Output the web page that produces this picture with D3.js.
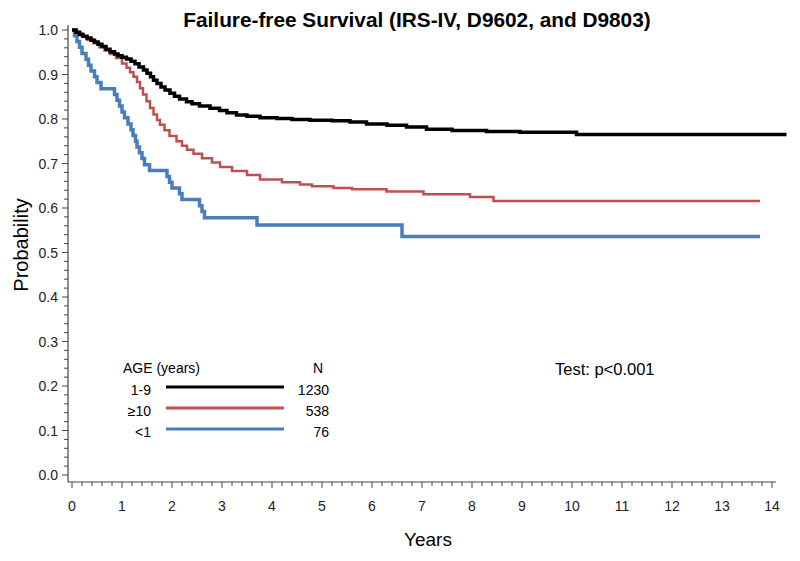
<!DOCTYPE html>
<html><head><meta charset="utf-8">
<script src="https://cdn.jsdelivr.net/npm/d3@7"></script>
<style>body{margin:0;background:#fff}svg{font-family:"Liberation Sans",Arial,sans-serif}</style>
</head><body><svg id="c" width="800" height="561"></svg>
<script>
const title = "Failure-free Survival (IRS-IV, D9602, and D9803)";
const xTicks = [0,1,2,3,4,5,6,7,8,9,10,11,12,13,14];
const yTicks = [0,0.1,0.2,0.3,0.4,0.5,0.6,0.7,0.8,0.9,1.0];
const groups = ["1-9","≥10","<1"];
const groupN = [1230,538,76];
const colors = ["#000000","#c0504d","#4a7ebb"];

const blackT = [0,0.08,0.15,0.22,0.3,0.38,0.45,0.52,0.6,0.68,0.76,0.85,0.92,1.0,1.09,1.18,1.26,1.34,1.43,1.5,1.57,1.63,1.7,1.78,1.86,1.96,2.05,2.15,2.29,2.4,2.55,2.76,2.95,3.1,3.29,3.5,3.76,4.1,4.4,4.76,5.2,5.56,5.89,6.3,6.69,7.09,7.6,8.29,8.96,10.09,14.29];
const blackS = [1,0.995,0.99,0.986,0.982,0.977,0.973,0.968,0.963,0.957,0.951,0.946,0.942,0.939,0.935,0.93,0.924,0.917,0.91,0.903,0.895,0.887,0.88,0.872,0.865,0.858,0.851,0.845,0.839,0.834,0.829,0.824,0.819,0.814,0.809,0.806,0.803,0.801,0.799,0.797,0.796,0.793,0.789,0.786,0.782,0.777,0.774,0.772,0.77,0.765,0.765];
const redT = [0,0.1,0.2,0.3,0.43,0.55,0.65,0.76,0.88,1.0,1.09,1.16,1.23,1.3,1.36,1.42,1.49,1.56,1.63,1.7,1.76,1.85,1.95,2.09,2.2,2.3,2.43,2.6,2.8,2.96,3.2,3.5,3.76,4.2,4.56,4.8,5.23,5.6,6.29,7.03,7.96,8.43,13.76];
const redS = [1,0.993,0.986,0.978,0.97,0.961,0.954,0.946,0.937,0.925,0.915,0.905,0.895,0.883,0.869,0.855,0.84,0.825,0.81,0.798,0.787,0.775,0.762,0.75,0.74,0.731,0.722,0.712,0.702,0.692,0.683,0.674,0.664,0.658,0.653,0.649,0.645,0.642,0.637,0.631,0.625,0.616,0.616];
const blueT = [0,0.05,0.1,0.15,0.2,0.28,0.33,0.38,0.45,0.5,0.58,0.85,0.9,0.95,1.0,1.05,1.12,1.18,1.22,1.27,1.3,1.35,1.4,1.45,1.55,1.9,1.95,2.0,2.15,2.2,2.55,2.6,2.65,3.7,6.6,13.76];
const blueS = [1,0.987,0.974,0.961,0.947,0.934,0.921,0.908,0.895,0.882,0.868,0.855,0.842,0.829,0.816,0.803,0.789,0.776,0.763,0.75,0.737,0.724,0.711,0.697,0.684,0.671,0.658,0.645,0.632,0.619,0.605,0.592,0.578,0.562,0.536,0.536];

const svg = d3.select("#c");
const x = d3.scaleLinear().domain([0,14]).range([72,772]);
const y = d3.scaleLinear().domain([0,1]).range([475,30]);

// axes
const xAxisY = 482, yAxisX = 68;
const gx = svg.append("g").attr("transform",`translate(0,${xAxisY})`);
gx.append("line").attr("x1",yAxisX).attr("x2",776).attr("stroke","#444").attr("stroke-width",1.2);
const xMinor = d3.range(0,14.01,0.2);
gx.selectAll("line.mn").data(xMinor).enter().append("line")
  .attr("x1",d=>x(d)).attr("x2",d=>x(d)).attr("y1",0).attr("y2",d=>Math.abs(d-Math.round(d))<1e-6?6:4)
  .attr("stroke","#444").attr("stroke-width",1);
gx.selectAll("text").data(xTicks).enter().append("text")
  .attr("x",d=>x(d)).attr("y",29).attr("text-anchor","middle")
  .attr("font-size",14).attr("fill","#222").text(d=>d);

const gy = svg.append("g");
gy.append("line").attr("x1",yAxisX).attr("x2",yAxisX).attr("y1",25).attr("y2",xAxisY).attr("stroke","#444").attr("stroke-width",1.2);
const yMinor = d3.range(0,1.001,0.02);
gy.selectAll("line.mn").data(yMinor).enter().append("line")
  .attr("x1",d=>yAxisX-(Math.abs(d*10-Math.round(d*10))<1e-6?6:4)).attr("x2",yAxisX)
  .attr("y1",d=>y(d)).attr("y2",d=>y(d)).attr("stroke","#444").attr("stroke-width",1);
gy.selectAll("text").data(yTicks).enter().append("text")
  .attr("x",58).attr("y",d=>y(d)+5).attr("text-anchor","end")
  .attr("font-size",14).attr("fill","#222").text(d=>d.toFixed(1));

// titles
svg.append("text").attr("x",417).attr("y",27).attr("text-anchor","middle")
  .attr("font-size",20.8).attr("font-weight","bold").text(title);
svg.append("text").attr("x",428).attr("y",546).attr("text-anchor","middle")
  .attr("font-size",19).text("Years");
svg.append("text").attr("transform","translate(28,245) rotate(-90)").attr("text-anchor","middle")
  .attr("font-size",20).text("Probability");

// curves
const line = d3.line().x(d=>x(d[0])).y(d=>y(d[1])).curve(d3.curveStepAfter);
const series = [[blackT,blackS],[redT,redS],[blueT,blueS]];
const widths = [3.5,2.5,3.5];
[2,1,0].forEach(i=>{
  const pts = series[i][0].map((t,j)=>[t,series[i][1][j]]);
  svg.append("path").datum(pts).attr("d",line).attr("fill","none")
    .attr("stroke",colors[i]).attr("stroke-width",widths[i]);
});

// legend
svg.append("text").attr("x",123).attr("y",373).attr("font-size",14).text("AGE (years)");
svg.append("text").attr("x",313).attr("y",373).attr("font-size",14).text("N");
groups.forEach((g,i)=>{
  const ly = 387 + i*21;
  svg.append("text").attr("x",151).attr("y",ly+8).attr("text-anchor","end").attr("font-size",14).text(g);
  svg.append("line").attr("x1",166).attr("x2",284).attr("y1",ly).attr("y2",ly)
    .attr("stroke",colors[i]).attr("stroke-width",3);
  svg.append("text").attr("x",329).attr("y",ly+8).attr("text-anchor","end").attr("font-size",14).text(groupN[i]);
});
svg.append("text").attr("x",555).attr("y",375).attr("font-size",16.5).text("Test: p<0.001");
</script></body></html>
